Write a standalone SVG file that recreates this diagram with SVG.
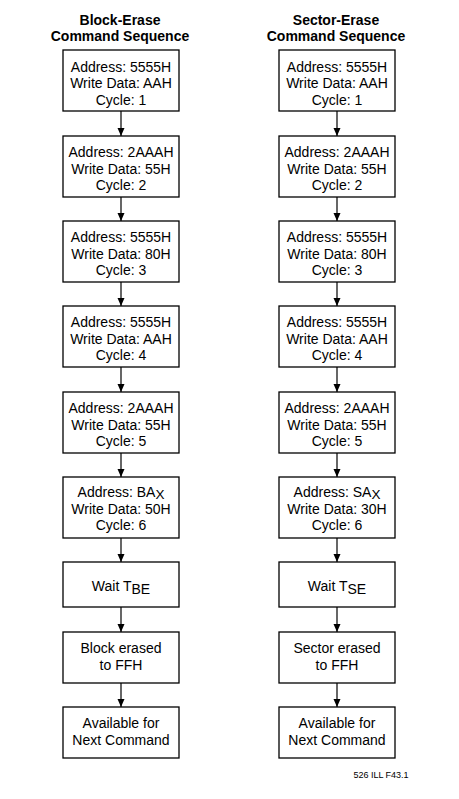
<svg xmlns="http://www.w3.org/2000/svg" width="459" height="799" viewBox="0 0 459 799">
<defs>
<style>
.box{fill:#fff;stroke:#000;stroke-width:1.3}
.t{font-family:"Liberation Sans",Arial,sans-serif;font-size:14px;fill:#000;text-anchor:middle}
.h{font-family:"Liberation Sans",Arial,sans-serif;font-size:14px;font-weight:bold;fill:#000;text-anchor:middle}
.f{font-family:"Liberation Sans",Arial,sans-serif;font-size:9px;fill:#000;text-anchor:middle}
.sub{font-size:13.5px}
.c{stroke:#000;stroke-width:1.2;fill:none;marker-end:url(#ah)}
</style>
<marker id="ah" viewBox="0 0 8 8" refX="8" refY="4" markerWidth="8" markerHeight="8" markerUnits="userSpaceOnUse" orient="auto">
<path d="M0,0.5 L8,4 L0,7.5 Z" fill="#000"/>
</marker>
</defs>
<rect width="459" height="799" fill="#fff"/>
<text class="h" x="120" y="25">Block-Erase</text>
<text class="h" x="120" y="41">Command Sequence</text>
<text class="h" x="336" y="25">Sector-Erase</text>
<text class="h" x="336" y="41">Command Sequence</text>

<g id="connectors">
<line class="c" x1="121" y1="111" x2="121" y2="136"/>
<line class="c" x1="121" y1="197" x2="121" y2="221"/>
<line class="c" x1="121" y1="282" x2="121" y2="306"/>
<line class="c" x1="121" y1="367" x2="121" y2="392"/>
<line class="c" x1="121" y1="453" x2="121" y2="477"/>
<line class="c" x1="121" y1="538" x2="121" y2="562"/>
<line class="c" x1="121" y1="607" x2="121" y2="632"/>
<line class="c" x1="121" y1="683" x2="121" y2="707"/>
<line class="c" x1="337" y1="111" x2="337" y2="136"/>
<line class="c" x1="337" y1="197" x2="337" y2="221"/>
<line class="c" x1="337" y1="282" x2="337" y2="306"/>
<line class="c" x1="337" y1="367" x2="337" y2="392"/>
<line class="c" x1="337" y1="453" x2="337" y2="477"/>
<line class="c" x1="337" y1="538" x2="337" y2="562"/>
<line class="c" x1="337" y1="607" x2="337" y2="632"/>
<line class="c" x1="337" y1="683" x2="337" y2="707"/>
</g>

<g id="b1"><rect class="box" x="63" y="50" width="116" height="61"/>
<text class="t" x="121" y="72">Address: 5555H</text><text class="t" x="121" y="88">Write Data: AAH</text><text class="t" x="121" y="105">Cycle: 1</text></g>
<g id="b2"><rect class="box" x="63" y="136" width="116" height="61"/>
<text class="t" x="121" y="157">Address: 2AAAH</text><text class="t" x="121" y="173.5">Write Data: 55H</text><text class="t" x="121" y="190">Cycle: 2</text></g>
<g id="b3"><rect class="box" x="63" y="221" width="116" height="61"/>
<text class="t" x="121" y="242">Address: 5555H</text><text class="t" x="121" y="258.5">Write Data: 80H</text><text class="t" x="121" y="275">Cycle: 3</text></g>
<g id="b4"><rect class="box" x="63" y="306" width="116" height="61"/>
<text class="t" x="121" y="327">Address: 5555H</text><text class="t" x="121" y="343.5">Write Data: AAH</text><text class="t" x="121" y="360">Cycle: 4</text></g>
<g id="b5"><rect class="box" x="63" y="392" width="116" height="61"/>
<text class="t" x="121" y="413">Address: 2AAAH</text><text class="t" x="121" y="429.5">Write Data: 55H</text><text class="t" x="121" y="446">Cycle: 5</text></g>
<g id="b6"><rect class="box" x="63" y="477" width="116" height="61"/>
<text class="t" x="121" y="496.5">Address: BA<tspan class="sub" dy="2">X</tspan></text><text class="t" x="121" y="513.5">Write Data: 50H</text><text class="t" x="121" y="530">Cycle: 6</text></g>
<g id="b7"><rect class="box" x="63" y="562" width="116" height="45"/>
<text class="t" x="121" y="591">Wait T<tspan dy="2.5">BE</tspan></text></g>
<g id="b8"><rect class="box" x="63" y="632" width="116" height="51"/>
<text class="t" x="121" y="653">Block erased</text><text class="t" x="121" y="669.5">to FFH</text></g>
<g id="b9"><rect class="box" x="63" y="707" width="116" height="51"/>
<text class="t" x="121" y="728">Available for</text><text class="t" x="121" y="744.5">Next Command</text></g>

<g id="s1"><rect class="box" x="279" y="50" width="116" height="61"/>
<text class="t" x="337" y="72">Address: 5555H</text><text class="t" x="337" y="88">Write Data: AAH</text><text class="t" x="337" y="105">Cycle: 1</text></g>
<g id="s2"><rect class="box" x="279" y="136" width="116" height="61"/>
<text class="t" x="337" y="157">Address: 2AAAH</text><text class="t" x="337" y="173.5">Write Data: 55H</text><text class="t" x="337" y="190">Cycle: 2</text></g>
<g id="s3"><rect class="box" x="279" y="221" width="116" height="61"/>
<text class="t" x="337" y="242">Address: 5555H</text><text class="t" x="337" y="258.5">Write Data: 80H</text><text class="t" x="337" y="275">Cycle: 3</text></g>
<g id="s4"><rect class="box" x="279" y="306" width="116" height="61"/>
<text class="t" x="337" y="327">Address: 5555H</text><text class="t" x="337" y="343.5">Write Data: AAH</text><text class="t" x="337" y="360">Cycle: 4</text></g>
<g id="s5"><rect class="box" x="279" y="392" width="116" height="61"/>
<text class="t" x="337" y="413">Address: 2AAAH</text><text class="t" x="337" y="429.5">Write Data: 55H</text><text class="t" x="337" y="446">Cycle: 5</text></g>
<g id="s6"><rect class="box" x="279" y="477" width="116" height="61"/>
<text class="t" x="337" y="496.5">Address: SA<tspan class="sub" dy="2">X</tspan></text><text class="t" x="337" y="513.5">Write Data: 30H</text><text class="t" x="337" y="530">Cycle: 6</text></g>
<g id="s7"><rect class="box" x="279" y="562" width="116" height="45"/>
<text class="t" x="337" y="591">Wait T<tspan dy="2.5">SE</tspan></text></g>
<g id="s8"><rect class="box" x="279" y="632" width="116" height="51"/>
<text class="t" x="337" y="653">Sector erased</text><text class="t" x="337" y="669.5">to FFH</text></g>
<g id="s9"><rect class="box" x="279" y="707" width="116" height="51"/>
<text class="t" x="337" y="728">Available for</text><text class="t" x="337" y="744.5">Next Command</text></g>

<text class="f" x="381" y="778">526 ILL F43.1</text>
</svg>
